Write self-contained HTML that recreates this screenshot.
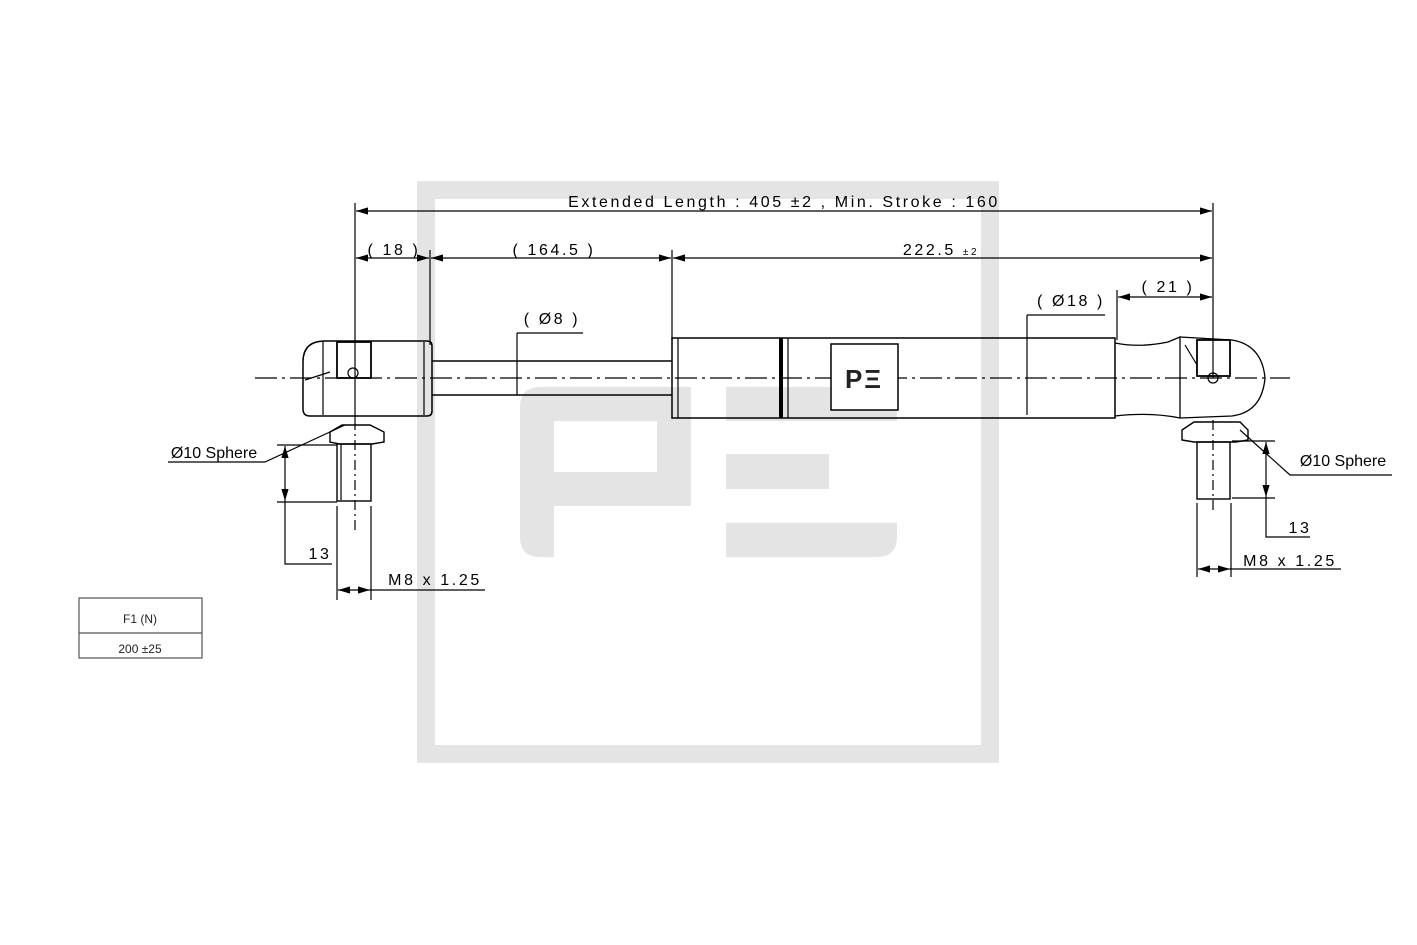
<!DOCTYPE html>
<html><head><style>body{margin:0;background:#fff}svg{display:block}</style></head><body>
<svg width="1417" height="945" viewBox="0 0 1417 945" xmlns="http://www.w3.org/2000/svg" font-family="Liberation Sans, sans-serif">
<defs>
<marker id="a" viewBox="0 0 10 6" refX="10" refY="3" markerWidth="10" markerHeight="6" orient="auto-start-reverse"><path d="M0,0 L10,3 L0,6z" fill="#000"/></marker>
</defs>
<!-- watermark -->
<rect x="426" y="190" width="564" height="564" fill="none" stroke="#e4e4e4" stroke-width="18"/>
<path d="M540,387 L691,387 L691,506 L554,506 L554,557 L540,557 Q520,557 520,537 L520,407 Q520,387 540,387Z" fill="#e4e4e4"/>
<rect x="554" y="421" width="103" height="51" fill="#fff"/>
<path d="M726,387 L877,387 Q897,387 897,407 L897,421 L726,421Z" fill="#e4e4e4"/>
<rect x="726" y="454" width="103" height="35" fill="#e4e4e4"/>
<path d="M726,523 L897,523 L897,537 Q897,557 877,557 L726,557Z" fill="#e4e4e4"/>
<g stroke="#000" fill="none" stroke-width="1.2">
<line x1="255" y1="378" x2="1290" y2="378" stroke-dasharray="22,5,3,5"/>
<line x1="355" y1="203" x2="355" y2="420"/>
<line x1="1213" y1="203" x2="1213" y2="378"/>
<line x1="430" y1="250" x2="430" y2="345"/>
<line x1="672" y1="250" x2="672" y2="340"/>
<line x1="1117" y1="290" x2="1117" y2="340"/>
<line x1="356" y1="211" x2="1212" y2="211" marker-start="url(#a)" marker-end="url(#a)"/>
<line x1="356" y1="258" x2="429" y2="258" marker-start="url(#a)" marker-end="url(#a)"/>
<line x1="431" y1="258" x2="671" y2="258" marker-start="url(#a)" marker-end="url(#a)"/>
<line x1="673" y1="258" x2="1212" y2="258" marker-start="url(#a)" marker-end="url(#a)"/>
<line x1="1118" y1="297" x2="1212" y2="297" marker-start="url(#a)" marker-end="url(#a)"/>
<line x1="1027" y1="315" x2="1027" y2="415"/>
<line x1="1027" y1="315" x2="1105" y2="315"/>
<line x1="517" y1="333" x2="517" y2="395"/>
<line x1="517" y1="333" x2="583" y2="333"/>
<!-- left eye -->
<path d="M325,341 L427,341 Q432,341 432,346 L432,411 Q432,416 427,416 L310,416 Q303,416 303,409 L303,362 Q303,341 325,341Z" stroke-width="1.5"/>
<line x1="323" y1="342" x2="323" y2="415"/>
<line x1="424" y1="342" x2="424" y2="415"/>
<rect x="337" y="342" width="34" height="36" stroke-width="1.8"/>
<circle cx="353" cy="373" r="5"/>
<line x1="305" y1="380" x2="330" y2="372"/>
<!-- rod -->
<line x1="432" y1="361" x2="672" y2="361" stroke-width="1.5"/>
<line x1="432" y1="395" x2="672" y2="395" stroke-width="1.5"/>
<!-- cylinder -->
<rect x="672" y="338" width="443" height="80" stroke-width="1.5"/>
<line x1="678" y1="338" x2="678" y2="418"/>
<line x1="781" y1="338" x2="781" y2="418" stroke-width="4"/>
<line x1="788" y1="338" x2="788" y2="418"/>
<!-- right fitting -->
<path d="M1115,343 Q1140,348 1168,342 L1180,337 L1180,418 Q1150,412 1115,416" stroke-width="1.3"/>
<path d="M1180,337 L1232,340 Q1262,345 1265,378 Q1262,412 1232,416 L1180,418" stroke-width="1.3"/>
<rect x="1197" y="340" width="33" height="36" stroke-width="1.8"/>
<circle cx="1213" cy="378" r="5"/>
<line x1="1185" y1="345" x2="1197" y2="365"/>
<!-- left stud -->
<path d="M330,432 L342,425 L370,425 L384,432 L384,442 L372,444 L340,444 L330,442Z" stroke-width="1.4"/>
<rect x="337" y="444" width="34" height="57" stroke-width="1.4"/>
<line x1="341" y1="444" x2="341" y2="500"/>
<line x1="355" y1="420" x2="355" y2="530" stroke-dasharray="10,4,2,4"/>
<!-- right stud -->
<path d="M1182,430 L1194,422 L1240,422 L1248,430 L1248,440 L1236,442 L1194,442 L1182,440Z" stroke-width="1.4"/>
<rect x="1197" y="442" width="33" height="57" stroke-width="1.4"/>
<line x1="1213" y1="420" x2="1213" y2="510" stroke-dasharray="10,4,2,4"/>
<!-- left annotations -->
<path d="M168,462 L265,462 L345,425"/>
<line x1="277" y1="445" x2="337" y2="445"/>
<line x1="277" y1="502" x2="337" y2="502"/>
<line x1="285" y1="446" x2="285" y2="501" marker-start="url(#a)" marker-end="url(#a)"/>
<path d="M285,501 L285,564 L332,564"/>
<line x1="337" y1="506" x2="337" y2="600"/>
<line x1="371" y1="506" x2="371" y2="600"/>
<line x1="338" y1="590" x2="370" y2="590" marker-start="url(#a)" marker-end="url(#a)"/>
<line x1="370" y1="590" x2="485" y2="590"/>
<!-- right annotations -->
<path d="M1240,430 L1290,475 L1392,475"/>
<line x1="1232" y1="441" x2="1275" y2="441"/>
<line x1="1232" y1="498" x2="1275" y2="498"/>
<line x1="1266" y1="442" x2="1266" y2="497" marker-start="url(#a)" marker-end="url(#a)"/>
<path d="M1266,497 L1266,537 L1310,537"/>
<line x1="1197" y1="503" x2="1197" y2="577"/>
<line x1="1231" y1="503" x2="1231" y2="577"/>
<line x1="1198" y1="569" x2="1230" y2="569" marker-start="url(#a)" marker-end="url(#a)"/>
<line x1="1230" y1="569" x2="1341" y2="569"/>
<rect x="79" y="598" width="123" height="60" stroke="#555"/>
<line x1="79" y1="633" x2="202" y2="633" stroke="#555"/>
</g>
<rect x="831" y="344" width="67" height="66" fill="#fff" stroke="#000" stroke-width="1.5"/>
<text x="864" y="388" font-size="26" font-weight="bold" text-anchor="middle" fill="#222" letter-spacing="2">PΞ</text>
<g font-size="16" fill="#000" text-anchor="middle" letter-spacing="2.6">
<text x="784" y="207">Extended Length : 405 ±2 ,  Min. Stroke : 160</text>
<text x="394" y="255">( 18 )</text>
<text x="554" y="255">( 164.5 )</text>
<text x="941" y="255">222.5 <tspan font-size="10">±2</tspan></text>
<text x="1168" y="292">( 21 )</text>
<text x="1071" y="306">( Ø18 )</text>
<text x="552" y="324">( Ø8 )</text>
<text x="320" y="559">13</text>
<text x="435" y="585">M8 x 1.25</text>
<text x="1300" y="533">13</text>
<text x="1290" y="566">M8 x 1.25</text>
</g>
<g font-size="16" fill="#000" text-anchor="middle">
<text x="214" y="458">Ø10 Sphere</text>
<text x="1343" y="466">Ø10 Sphere</text>
</g>
<g font-size="12" fill="#222" text-anchor="middle">
<text x="140" y="623">F1 (N)</text>
<text x="140" y="653">200 ±25</text>
</g>
</svg>
</body></html>
